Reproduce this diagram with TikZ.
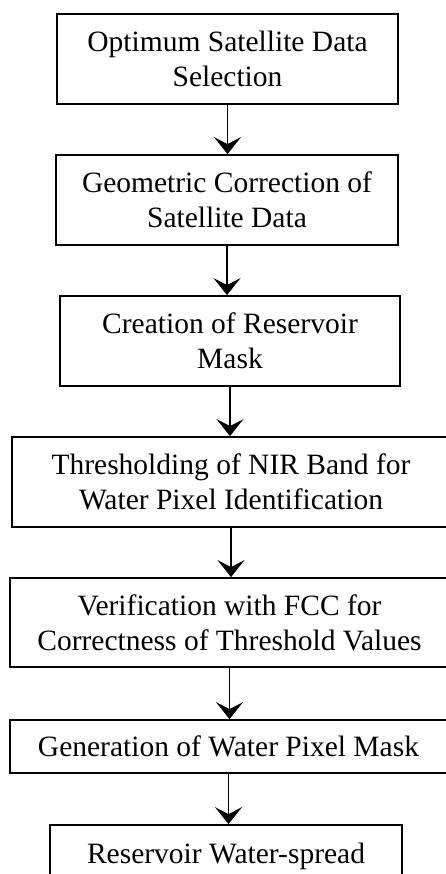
\documentclass[tikz,border=0pt]{standalone}
\usepackage{fontspec}
\setmainfont{Liberation Serif}
\usetikzlibrary{arrows.meta}
\tikzset{
	stage/.style={draw, line width=1.8pt, align=center, inner sep=0pt, font=\fontsize{29.5}{35}\selectfont},
	flow/.style={line width=1.5pt, -{Stealth[length=17pt, width=27pt, inset=7pt]}}
}
\begin{document}
\begin{tikzpicture}[x=1pt, y=-1pt]
			\useasboundingbox (0,0) rectangle (446,874);
			\clip (0,0) rectangle (446,874);
			\node [stage, at={(227.5,59)}, minimum width=341pt, minimum height=90pt] (select) {Optimum Satellite Data\\Selection};
			\node [stage, at={(227,200)}, minimum width=342pt, minimum height=90pt] (geom) {Geometric Correction of\\Satellite Data};
			\node [stage, at={(230,341)}, minimum width=340pt, minimum height=90pt] (mask) {Creation of Reservoir\\Mask};
			\node [stage, at={(231,482)}, minimum width=438pt, minimum height=90pt] (thresh) {Thresholding of NIR Band for\\Water Pixel Identification};
			\node [stage, at={(229.5,622.5)}, minimum width=439pt, minimum height=89pt] (verify) {Verification with FCC for\\Correctness of Threshold Values};
			\node [stage, at={(228.5,746.5)}, minimum width=437pt, minimum height=53pt] (pixel) {Generation of Water Pixel Mask};
			\node [stage, at={(226,856.5)}, minimum width=352pt, minimum height=63pt] (spread) {Reservoir Water-spread};
			\draw[flow] (select.south) -- (select.south |- geom.north);
			\draw[flow] (geom.south) -- (geom.south |- mask.north);
			\draw[flow] (mask.south) -- (mask.south |- thresh.north);
			\draw[flow] (thresh.south) -- (thresh.south |- verify.north);
			\draw[flow] (verify.south) -- (verify.south |- pixel.north);
			\draw[flow] (pixel.south) -- (pixel.south |- spread.north);
\end{tikzpicture}
\end{document}
